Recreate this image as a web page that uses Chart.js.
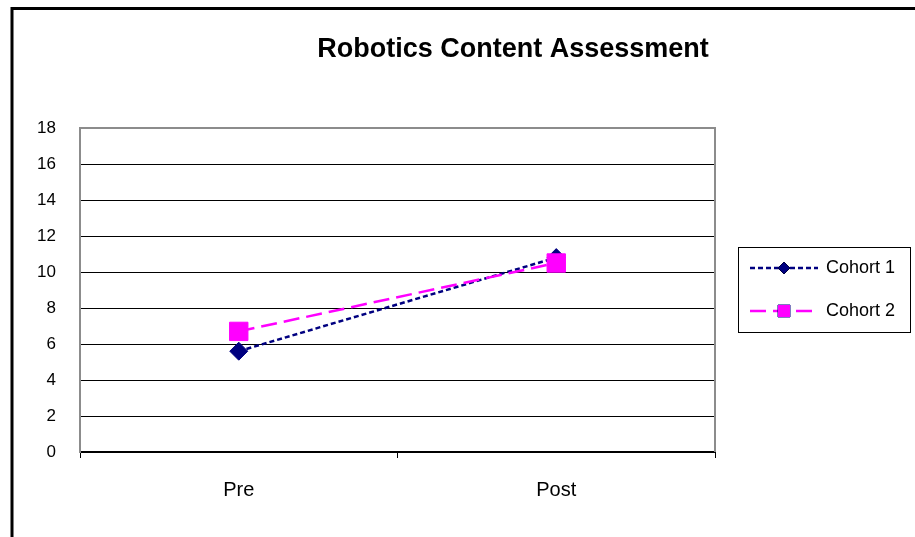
<!DOCTYPE html>
<html>
<head>
<meta charset="utf-8">
<script src="https://cdn.jsdelivr.net/npm/chart.js@4"></script>
<style>
  html, body { margin: 0; padding: 0; background: #fff; }
  #wrap { width: 915px; height: 537px; }
</style>
</head>
<body>
<div id="wrap"><canvas id="c" width="915" height="537"></canvas></div>
<script>
// Data
const chartTitle = 'Robotics Content Assessment';
const categories = ['Pre', 'Post'];
const seriesNames = ['Cohort 1', 'Cohort 2'];
const cohort1 = [5.6, 10.8];
const cohort2 = [6.7, 10.5];
const yTicks = [0, 2, 4, 6, 8, 10, 12, 14, 16, 18];

const FONT = '"Liberation Sans", Arial, sans-serif';

// Frame, title, plot-area outline and boxed legend
const decorations = {
  id: 'decorations',
  beforeDatasetsDraw(chart) {
    const { ctx, chartArea: a } = chart;
    ctx.save();
    ctx.strokeStyle = '#8c8c8c';
    ctx.lineWidth = 2;
    ctx.beginPath();
    ctx.moveTo(a.left, a.top);
    ctx.lineTo(a.right, a.top);
    ctx.lineTo(a.right, a.bottom);
    ctx.stroke();
    ctx.restore();
  },
  afterDraw(chart) {
    const { ctx } = chart;
    ctx.save();
    // outer frame (top and left edges)
    ctx.strokeStyle = '#000';
    ctx.lineWidth = 3;
    ctx.beginPath();
    ctx.moveTo(12, 537);
    ctx.lineTo(12, 8.5);
    ctx.lineTo(915, 8.5);
    ctx.stroke();

    // title
    ctx.fillStyle = '#000';
    ctx.font = 'bold 27px ' + FONT;
    ctx.textAlign = 'center';
    ctx.textBaseline = 'middle';
    ctx.fillText(chartTitle, 513, 50);

    // legend box
    const bx = 738.5, by = 247.5, bw = 172, bh = 85;
    ctx.lineWidth = 1;
    ctx.strokeStyle = '#000';
    ctx.strokeRect(bx, by, bw, bh);
    const rows = [268, 311];
    const markerRadius = [6, 8.5];
    chart.data.datasets.forEach((ds, i) => {
      const y = rows[i];
      ctx.save();
      ctx.strokeStyle = ds.borderColor;
      ctx.lineWidth = ds.borderWidth;
      ctx.setLineDash(ds.borderDash);
      ctx.beginPath();
      ctx.moveTo(750, y);
      ctx.lineTo(818, y);
      ctx.stroke();
      ctx.restore();
      Chart.helpers.drawPoint(ctx, {
        pointStyle: ds.pointStyle,
        radius: markerRadius[i],
        rotation: 0,
        borderWidth: 1
      }, 784, y);
      ctx.fillStyle = ds.pointBackgroundColor;
      ctx.strokeStyle = ds.pointBorderColor;
      ctx.fill();
      ctx.fillStyle = '#000';
      ctx.font = '18px ' + FONT;
      ctx.textAlign = 'left';
      ctx.textBaseline = 'middle';
      ctx.fillText(ds.label, 826, y);
    });
    ctx.restore();
  }
};

new Chart(document.getElementById('c'), {
  type: 'line',
  data: {
    labels: categories,
    datasets: [
      {
        label: seriesNames[0],
        data: cohort1,
        order: 1,
        borderColor: '#000080',
        backgroundColor: '#000080',
        borderWidth: 2.5,
        borderDash: [5, 3],
        pointStyle: 'rectRot',
        pointRadius: 9,
        pointBackgroundColor: '#000080',
        pointBorderColor: '#000080',
        pointBorderWidth: 1,
        tension: 0,
        fill: false
      },
      {
        label: seriesNames[1],
        data: cohort2,
        order: 0,
        borderColor: '#ff00ff',
        backgroundColor: '#ff00ff',
        borderWidth: 2.5,
        borderDash: [16, 7],
        pointStyle: 'rect',
        pointRadius: 13,
        pointBackgroundColor: '#ff00ff',
        pointBorderColor: '#ff00ff',
        pointBorderWidth: 1,
        tension: 0,
        fill: false
      }
    ]
  },
  options: {
    responsive: false,
    animation: false,
    layout: { padding: { top: 128, right: 200, bottom: 0, left: 0 } },
    plugins: {
      legend: { display: false },
      title: { display: false },
      tooltip: { enabled: false }
    },
    scales: {
      x: {
        type: 'category',
        offset: true,
        afterFit(s) { s.height = 85; },
        grid: {
          offset: true,
          drawOnChartArea: false,
          drawTicks: true,
          tickLength: 6,
          color: '#000',
          lineWidth: 1
        },
        border: { color: '#000', width: 2 },
        ticks: {
          color: '#000',
          font: { family: FONT, size: 20 },
          padding: 20,
          maxRotation: 0
        }
      },
      y: {
        min: yTicks[0],
        max: yTicks[yTicks.length - 1],
        afterFit(s) { s.width = 80; },
        afterBuildTicks(s) { s.ticks = yTicks.map(v => ({ value: v })); },
        grid: {
          drawTicks: false,
          color: ctx => (ctx.tick && ctx.tick.value === yTicks[yTicks.length - 1]) ? 'rgba(0,0,0,0)' : '#000',
          lineWidth: 1
        },
        border: { color: '#8c8c8c', width: 2 },
        ticks: {
          color: '#000',
          font: { family: FONT, size: 17 },
          padding: 24
        }
      }
    }
  },
  plugins: [decorations]
});
</script>
</body>
</html>
